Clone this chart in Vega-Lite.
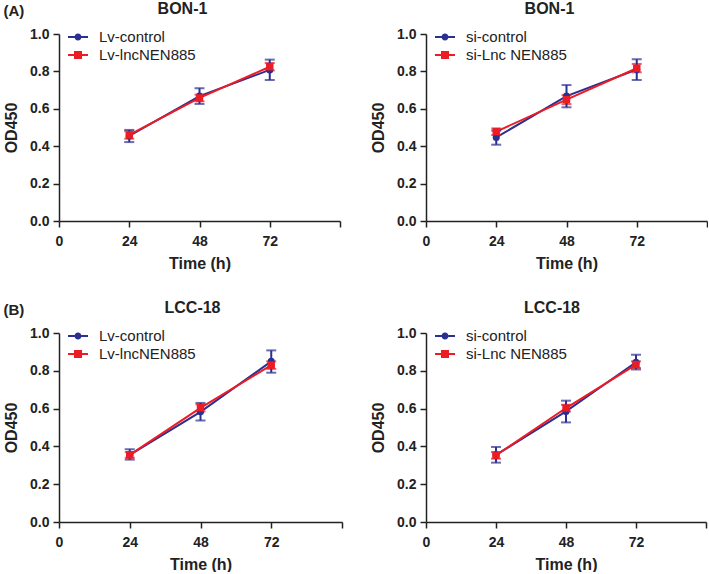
{
  "$schema": "https://vega.github.io/schema/vega-lite/v6.json",
  "padding": {"left": 3, "top": 1, "right": 0, "bottom": 0},
  "background": "white",
  "datasets": {
    "od": [
      {"panel": "A1", "group": "Lv-control", "time": 24, "mean": 0.455, "lo": 0.422, "hi": 0.487},
      {"panel": "A1", "group": "Lv-control", "time": 48, "mean": 0.668, "lo": 0.626, "hi": 0.71},
      {"panel": "A1", "group": "Lv-control", "time": 72, "mean": 0.808, "lo": 0.754, "hi": 0.863},
      {"panel": "A1", "group": "Lv-lncNEN885", "time": 24, "mean": 0.46, "lo": 0.44, "hi": 0.48},
      {"panel": "A1", "group": "Lv-lncNEN885", "time": 48, "mean": 0.658, "lo": 0.64, "hi": 0.676},
      {"panel": "A1", "group": "Lv-lncNEN885", "time": 72, "mean": 0.825, "lo": 0.805, "hi": 0.845},
      {"panel": "A2", "group": "si-control", "time": 24, "mean": 0.447, "lo": 0.408, "hi": 0.483},
      {"panel": "A2", "group": "si-control", "time": 48, "mean": 0.668, "lo": 0.608, "hi": 0.727},
      {"panel": "A2", "group": "si-control", "time": 72, "mean": 0.81, "lo": 0.754, "hi": 0.865},
      {"panel": "A2", "group": "si-Lnc NEN885", "time": 24, "mean": 0.478, "lo": 0.46, "hi": 0.495},
      {"panel": "A2", "group": "si-Lnc NEN885", "time": 48, "mean": 0.649, "lo": 0.625, "hi": 0.673},
      {"panel": "A2", "group": "si-Lnc NEN885", "time": 72, "mean": 0.817, "lo": 0.795, "hi": 0.84},
      {"panel": "B1", "group": "Lv-control", "time": 24, "mean": 0.355, "lo": 0.33, "hi": 0.385},
      {"panel": "B1", "group": "Lv-control", "time": 48, "mean": 0.583, "lo": 0.537, "hi": 0.63},
      {"panel": "B1", "group": "Lv-control", "time": 72, "mean": 0.85, "lo": 0.79, "hi": 0.908},
      {"panel": "B1", "group": "Lv-lncNEN885", "time": 24, "mean": 0.355, "lo": 0.34, "hi": 0.37},
      {"panel": "B1", "group": "Lv-lncNEN885", "time": 48, "mean": 0.604, "lo": 0.585, "hi": 0.622},
      {"panel": "B1", "group": "Lv-lncNEN885", "time": 72, "mean": 0.83, "lo": 0.81, "hi": 0.85},
      {"panel": "B2", "group": "si-control", "time": 24, "mean": 0.355, "lo": 0.314, "hi": 0.397},
      {"panel": "B2", "group": "si-control", "time": 48, "mean": 0.585, "lo": 0.527, "hi": 0.642},
      {"panel": "B2", "group": "si-control", "time": 72, "mean": 0.845, "lo": 0.807, "hi": 0.885},
      {"panel": "B2", "group": "si-Lnc NEN885", "time": 24, "mean": 0.353, "lo": 0.335, "hi": 0.37},
      {"panel": "B2", "group": "si-Lnc NEN885", "time": 48, "mean": 0.603, "lo": 0.585, "hi": 0.62},
      {"panel": "B2", "group": "si-Lnc NEN885", "time": 72, "mean": 0.833, "lo": 0.815, "hi": 0.85}
    ]
  },
  "data": {"name": "od"},
  "config": {
    "view": {"stroke": null},
    "font": "Liberation Sans",
    "title": {"font": "Liberation Sans", "fontSize": 16, "fontWeight": "bold", "color": "#222", "offset": 10, "anchor": "middle"},
    "axis": {
      "grid": false, "domainColor": "#222", "domainWidth": 1.5, "tickColor": "#222", "tickWidth": 1.5, "tickSize": 6,
      "labelFont": "Liberation Sans", "labelFontSize": 14, "labelFontWeight": "bold", "labelColor": "#222", "labelPadding": 4,
      "labelFlush": false, "labelOverlap": false,
      "titleFont": "Liberation Sans", "titleFontSize": 16, "titleFontWeight": "bold", "titleColor": "#222"
    },
    "axisX": {"labelPadding": 7, "titlePadding": 7},
    "axisY": {"titlePadding": 10},
    "legend": {
      "orient": "none", "legendX": 9, "legendY": -7, "title": null, "padding": 0, "rowPadding": 0,
      "symbolSize": 400, "symbolStrokeWidth": 0, "symbolOpacity": 1, "labelFont": "Liberation Sans", "labelFontSize": 15,
      "labelFontWeight": "normal", "labelColor": "#222", "labelOffset": 11
    }
  },
  "resolve": {"scale": {"color": "independent", "shape": "independent"}},
  "spacing": 29,
  "vconcat": [
    {
      "title": {"text": "(A)", "anchor": "start", "frame": "bounds", "offset": -18, "fontSize": 15},
      "resolve": {"scale": {"color": "independent", "shape": "independent"}},
      "spacing": 29,
      "hconcat": [
        {
          "width": 281, "height": 187,
          "title": {"text": "BON-1", "dx": -17},
          "transform": [{"filter": "datum.panel === 'A1'"}],
          "encoding": {
            "x": {"field": "time", "type": "quantitative", "scale": {"domain": [0, 96]}, "axis": {"values": [0, 24, 48, 72, 96], "labelExpr": "datum.value === 96 ? '' : datum.label", "title": "Time (h)"}},
            "y": {"field": "mean", "type": "quantitative", "scale": {"domain": [0, 1]}, "axis": {"values": [0, 0.2, 0.4, 0.6, 0.8, 1], "format": ".1f", "title": "OD450"}},
            "color": {"field": "group", "type": "nominal", "scale": {"domain": ["Lv-control", "Lv-lncNEN885"], "range": ["#2B2F8F", "#ED1C24"]}}
          },
          "layer": [
            {"mark": {"type": "line", "strokeWidth": 2}},
            {"transform": [{"filter": "datum.group === 'Lv-lncNEN885'"}],
             "mark": {"type": "errorbar", "ticks": true, "thickness": 2, "size": 10},
             "encoding": {"y": {"field": "lo", "type": "quantitative"}, "y2": {"field": "hi"}}},
            {"transform": [{"filter": "datum.group === 'Lv-control'"}],
             "mark": {"type": "errorbar", "ticks": true, "thickness": 2, "size": 10},
             "encoding": {"y": {"field": "lo", "type": "quantitative"}, "y2": {"field": "hi"}}},
            {"transform": [{"filter": "datum.group === 'Lv-control'"}],
             "mark": {"type": "point", "shape": "circle", "filled": true, "opacity": 1, "size": 50}},
            {"transform": [{"filter": "datum.group === 'Lv-lncNEN885'"}],
             "mark": {"type": "point", "shape": "square", "filled": true, "opacity": 1, "size": 55}},
            {"transform": [{"filter": "false"}],
             "mark": {"type": "point", "filled": true, "opacity": 1},
             "encoding": {"shape": {"field": "group", "type": "nominal", "scale": {"domain": ["Lv-control", "Lv-lncNEN885"], "range": ["M-1,-0.1H-0.34V0.1H-1Z M0.34,-0.1H1V0.1H0.34Z M0.35,0A0.35,0.35 0 1 1 -0.35,0A0.35,0.35 0 1 1 0.35,0Z", "M-1,-0.1H-0.4V0.1H-1Z M0.4,-0.1H1V0.1H0.4Z M-0.4,-0.4H0.4V0.4H-0.4Z"]}}}}
          ]
        },
        {
          "width": 281, "height": 187,
          "title": {"text": "BON-1", "dx": -17},
          "transform": [{"filter": "datum.panel === 'A2'"}],
          "encoding": {
            "x": {"field": "time", "type": "quantitative", "scale": {"domain": [0, 96]}, "axis": {"values": [0, 24, 48, 72, 96], "labelExpr": "datum.value === 96 ? '' : datum.label", "title": "Time (h)"}},
            "y": {"field": "mean", "type": "quantitative", "scale": {"domain": [0, 1]}, "axis": {"values": [0, 0.2, 0.4, 0.6, 0.8, 1], "format": ".1f", "title": "OD450"}},
            "color": {"field": "group", "type": "nominal", "scale": {"domain": ["si-control", "si-Lnc NEN885"], "range": ["#2B2F8F", "#ED1C24"]}}
          },
          "layer": [
            {"mark": {"type": "line", "strokeWidth": 2}},
            {"transform": [{"filter": "datum.group === 'si-Lnc NEN885'"}],
             "mark": {"type": "errorbar", "ticks": true, "thickness": 2, "size": 10},
             "encoding": {"y": {"field": "lo", "type": "quantitative"}, "y2": {"field": "hi"}}},
            {"transform": [{"filter": "datum.group === 'si-control'"}],
             "mark": {"type": "errorbar", "ticks": true, "thickness": 2, "size": 10},
             "encoding": {"y": {"field": "lo", "type": "quantitative"}, "y2": {"field": "hi"}}},
            {"transform": [{"filter": "datum.group === 'si-control'"}],
             "mark": {"type": "point", "shape": "circle", "filled": true, "opacity": 1, "size": 50}},
            {"transform": [{"filter": "datum.group === 'si-Lnc NEN885'"}],
             "mark": {"type": "point", "shape": "square", "filled": true, "opacity": 1, "size": 55}},
            {"transform": [{"filter": "false"}],
             "mark": {"type": "point", "filled": true, "opacity": 1},
             "encoding": {"shape": {"field": "group", "type": "nominal", "scale": {"domain": ["si-control", "si-Lnc NEN885"], "range": ["M-1,-0.1H-0.34V0.1H-1Z M0.34,-0.1H1V0.1H0.34Z M0.35,0A0.35,0.35 0 1 1 -0.35,0A0.35,0.35 0 1 1 0.35,0Z", "M-1,-0.1H-0.4V0.1H-1Z M0.4,-0.1H1V0.1H0.4Z M-0.4,-0.4H0.4V0.4H-0.4Z"]}}}}
          ]
        }
      ]
    },
    {
      "title": {"text": "(B)", "anchor": "start", "frame": "bounds", "offset": -18, "fontSize": 15},
      "resolve": {"scale": {"color": "independent", "shape": "independent"}},
      "spacing": 27,
      "hconcat": [
        {
          "width": 283, "height": 189,
          "title": {"text": "LCC-18", "dx": -8},
          "transform": [{"filter": "datum.panel === 'B1'"}],
          "encoding": {
            "x": {"field": "time", "type": "quantitative", "scale": {"domain": [0, 96]}, "axis": {"values": [0, 24, 48, 72, 96], "labelExpr": "datum.value === 96 ? '' : datum.label", "title": "Time (h)"}},
            "y": {"field": "mean", "type": "quantitative", "scale": {"domain": [0, 1]}, "axis": {"values": [0, 0.2, 0.4, 0.6, 0.8, 1], "format": ".1f", "title": "OD450"}},
            "color": {"field": "group", "type": "nominal", "scale": {"domain": ["Lv-control", "Lv-lncNEN885"], "range": ["#2B2F8F", "#ED1C24"]}}
          },
          "layer": [
            {"mark": {"type": "line", "strokeWidth": 2}},
            {"transform": [{"filter": "datum.group === 'Lv-lncNEN885'"}],
             "mark": {"type": "errorbar", "ticks": true, "thickness": 2, "size": 10},
             "encoding": {"y": {"field": "lo", "type": "quantitative"}, "y2": {"field": "hi"}}},
            {"transform": [{"filter": "datum.group === 'Lv-control'"}],
             "mark": {"type": "errorbar", "ticks": true, "thickness": 2, "size": 10},
             "encoding": {"y": {"field": "lo", "type": "quantitative"}, "y2": {"field": "hi"}}},
            {"transform": [{"filter": "datum.group === 'Lv-control'"}],
             "mark": {"type": "point", "shape": "circle", "filled": true, "opacity": 1, "size": 50}},
            {"transform": [{"filter": "datum.group === 'Lv-lncNEN885'"}],
             "mark": {"type": "point", "shape": "square", "filled": true, "opacity": 1, "size": 55}},
            {"transform": [{"filter": "false"}],
             "mark": {"type": "point", "filled": true, "opacity": 1},
             "encoding": {"shape": {"field": "group", "type": "nominal", "scale": {"domain": ["Lv-control", "Lv-lncNEN885"], "range": ["M-1,-0.1H-0.34V0.1H-1Z M0.34,-0.1H1V0.1H0.34Z M0.35,0A0.35,0.35 0 1 1 -0.35,0A0.35,0.35 0 1 1 0.35,0Z", "M-1,-0.1H-0.4V0.1H-1Z M0.4,-0.1H1V0.1H0.4Z M-0.4,-0.4H0.4V0.4H-0.4Z"]}}}}
          ]
        },
        {
          "width": 280, "height": 189,
          "title": {"text": "LCC-18", "dx": -14},
          "transform": [{"filter": "datum.panel === 'B2'"}],
          "encoding": {
            "x": {"field": "time", "type": "quantitative", "scale": {"domain": [0, 96]}, "axis": {"values": [0, 24, 48, 72, 96], "labelExpr": "datum.value === 96 ? '' : datum.label", "title": "Time (h)"}},
            "y": {"field": "mean", "type": "quantitative", "scale": {"domain": [0, 1]}, "axis": {"values": [0, 0.2, 0.4, 0.6, 0.8, 1], "format": ".1f", "title": "OD450"}},
            "color": {"field": "group", "type": "nominal", "scale": {"domain": ["si-control", "si-Lnc NEN885"], "range": ["#2B2F8F", "#ED1C24"]}}
          },
          "layer": [
            {"mark": {"type": "line", "strokeWidth": 2}},
            {"transform": [{"filter": "datum.group === 'si-Lnc NEN885'"}],
             "mark": {"type": "errorbar", "ticks": true, "thickness": 2, "size": 10},
             "encoding": {"y": {"field": "lo", "type": "quantitative"}, "y2": {"field": "hi"}}},
            {"transform": [{"filter": "datum.group === 'si-control'"}],
             "mark": {"type": "errorbar", "ticks": true, "thickness": 2, "size": 10},
             "encoding": {"y": {"field": "lo", "type": "quantitative"}, "y2": {"field": "hi"}}},
            {"transform": [{"filter": "datum.group === 'si-control'"}],
             "mark": {"type": "point", "shape": "circle", "filled": true, "opacity": 1, "size": 50}},
            {"transform": [{"filter": "datum.group === 'si-Lnc NEN885'"}],
             "mark": {"type": "point", "shape": "square", "filled": true, "opacity": 1, "size": 55}},
            {"transform": [{"filter": "false"}],
             "mark": {"type": "point", "filled": true, "opacity": 1},
             "encoding": {"shape": {"field": "group", "type": "nominal", "scale": {"domain": ["si-control", "si-Lnc NEN885"], "range": ["M-1,-0.1H-0.34V0.1H-1Z M0.34,-0.1H1V0.1H0.34Z M0.35,0A0.35,0.35 0 1 1 -0.35,0A0.35,0.35 0 1 1 0.35,0Z", "M-1,-0.1H-0.4V0.1H-1Z M0.4,-0.1H1V0.1H0.4Z M-0.4,-0.4H0.4V0.4H-0.4Z"]}}}}
          ]
        }
      ]
    }
  ]
}
